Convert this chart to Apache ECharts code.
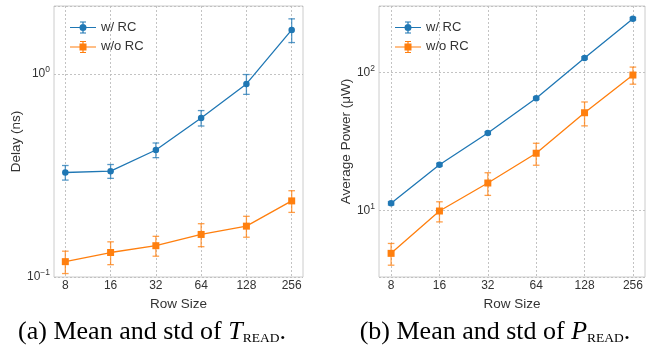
<!DOCTYPE html>
<html>
<head>
<meta charset="utf-8">
<script src="https://cdn.jsdelivr.net/npm/echarts@6/dist/echarts.min.js"></script>
<style>
html,body{margin:0;padding:0;background:#fff;}
#chart{width:652px;height:350px;}
</style>
</head>
<body>
<div id="chart"></div>
<script>
// ---- data ----
var rowSizes = [8, 16, 32, 64, 128, 256];
var seriesNames = ['w/ RC', 'w/o RC'];
var delayWithRC = [0.327, 0.332, 0.422, 0.607, 0.893, 1.647];
var delayWithRCStd = [0.027, 0.026, 0.035, 0.053, 0.100, 0.220];
var delayWithoutRC = [0.119, 0.132, 0.1426, 0.162, 0.178, 0.237];
var delayWithoutRCStd = [0.015, 0.017, 0.016, 0.021, 0.021, 0.029];
var powerWithRC = [11.3, 21.5, 36.4, 64.9, 126.9, 243.8];
var powerWithRCStd = [0.3, 0.5, 0.8, 1.3, 2.5, 5.0];
var powerWithoutRC = [4.92, 9.95, 15.85, 26.0, 51.0, 95.5];
var powerWithoutRCStd = [0.88, 1.65, 2.95, 4.7, 10.0, 13.5];
var yLabels = ['Delay (ns)', 'Average Power (\u03bcW)'];
var xLabel = 'Row Size';
var captionA = ['(a) Mean and std of ', 'T', 'READ', '.'];
var captionB = ['(b) Mean and std of ', 'P', 'READ', '.'];

// ---- build ----
var BLUE = '#1f77b4', ORANGE = '#ff7f0e';
var FONT = 'Liberation Sans, Arial, sans-serif';
var SERIF = 'Liberation Serif, Times New Roman, serif';
var TXT = '#333333';
var xs = rowSizes.map(function (r) { return Math.log2(r); });

function pts(means) { return means.map(function (m, i) { return [xs[i], m]; }); }
function errs(means, stds) { return means.map(function (m, i) { return [xs[i], m - stds[i], m + stds[i]]; }); }

var iconCircle = 'path://M0,6.5H26V7.5H0Z M12.4,1H13.6V13H12.4Z M10,1H16V2H10Z M10,12H16V13H10Z M9.5,7A3.5,3.5,0,1,1,16.5,7A3.5,3.5,0,1,1,9.5,7Z';
var iconSquare = 'path://M0,6.5H26V7.5H0Z M12.4,1H13.6V13H12.4Z M10,1H16V2H10Z M10,12H16V13H10Z M9.5,3.5H16.5V10.5H9.5Z';

var gridLine = { show: true, lineStyle: { color: '#bdbdbd', width: 0.9, type: [2, 2] } };

function xAxis(gi) {
  return {
    type: 'value', gridIndex: gi, min: 2.75, max: 8.25,
    name: xLabel, nameLocation: 'middle', nameGap: 12,
    nameTextStyle: { fontFamily: FONT, fontSize: 13.5, color: TXT },
    axisLine: { show: false },
    axisTick: { show: false, customValues: xs },
    axisLabel: {
      customValues: xs, margin: 3, fontFamily: FONT, fontSize: 12, color: TXT,
      formatter: function (v) { return String(Math.round(Math.pow(2, v))); }
    },
    splitLine: gridLine
  };
}
function supFmt(v) {
  var e = Math.round(Math.log10(v));
  return '10{sup|' + (e < 0 ? '\u2212' + (-e) : e) + '}';
}
function yAxis(gi, min, max, name, gap) {
  return {
    type: 'log', logBase: 10, gridIndex: gi, min: min, max: max,
    name: name, nameLocation: 'middle', nameRotate: 90, nameGap: gap,
    nameTextStyle: { fontFamily: FONT, fontSize: 13.5, color: TXT },
    axisLine: { show: false },
    axisTick: { show: false },
    minorTick: { show: false },
    axisLabel: {
      showMinLabel: gi === 0, showMaxLabel: false, margin: 4,
      fontFamily: FONT, fontSize: 12, color: TXT,
      formatter: supFmt,
      rich: { sup: { fontFamily: FONT, fontSize: 8.5, color: TXT, padding: [0, 0, 8, 0] } }
    },
    splitLine: gridLine
  };
}
function lineSeries(name, gi, means, color, symbol, size) {
  return {
    type: 'line', name: name, xAxisIndex: gi, yAxisIndex: gi,
    data: pts(means), symbol: symbol, symbolSize: size,
    itemStyle: { color: color, borderWidth: 0 },
    lineStyle: { color: color, width: 1.3 },
    z: 3, animation: false
  };
}
function errSeries(name, gi, means, stds, color) {
  return {
    type: 'custom', name: name, xAxisIndex: gi, yAxisIndex: gi,
    data: errs(means, stds), encode: { x: 0, y: [1, 2] }, z: 2, animation: false,
    renderItem: function (params, api) {
      var x = api.value(0);
      var p1 = api.coord([x, api.value(2)]);
      var p2 = api.coord([x, api.value(1)]);
      var w = 3.3;
      var st = { stroke: color, lineWidth: 1.3, opacity: 0.75 };
      return { type: 'group', children: [
        { type: 'line', shape: { x1: p1[0], y1: p1[1], x2: p2[0], y2: p2[1] }, style: st },
        { type: 'line', shape: { x1: p1[0] - w, y1: p1[1], x2: p1[0] + w, y2: p1[1] }, style: st },
        { type: 'line', shape: { x1: p2[0] - w, y1: p2[1], x2: p2[0] + w, y2: p2[1] }, style: st }
      ] };
    }
  };
}
function legend(left) {
  return {
    orient: 'vertical', left: left, top: 16, itemWidth: 26, itemHeight: 12, itemGap: 6.4,
    data: [{ name: seriesNames[0], icon: iconCircle }, { name: seriesNames[1], icon: iconSquare }],
    itemStyle: { borderWidth: 0 },
    textStyle: { fontFamily: FONT, fontSize: 13, color: TXT },
    selectedMode: false
  };
}
function caption(parts, cx) {
  return {
    type: 'text', x: cx, y: 332,
    style: {
      text: parts[0] + '{it|' + parts[1] + '}{sub|' + parts[2] + '}' + parts[3],
      fontFamily: SERIF, fontSize: 26, fill: '#000',
      align: 'center', verticalAlign: 'middle',
      rich: {
        it: { fontFamily: SERIF, fontSize: 26, fontStyle: 'italic', fill: '#000' },
        sub: { fontFamily: SERIF, fontSize: 13.5, fill: '#000', padding: [12, 0, 0, 0] }
      }
    }
  };
}

var gridStyle = { show: true, borderColor: '#cccccc', borderWidth: 1, backgroundColor: '#fff' };
var option = {
  animation: false,
  backgroundColor: '#ffffff',
  grid: [
    Object.assign({ left: 54, top: 6, width: 249, height: 271 }, gridStyle),
    Object.assign({ left: 379, top: 6, width: 266, height: 271 }, gridStyle)
  ],
  xAxis: [xAxis(0), xAxis(1)],
  yAxis: [yAxis(0, 0.1, 2.16, yLabels[0], 23), yAxis(1, 3.32, 301, yLabels[1], 20)],
  legend: [legend(65), legend(390)],
  series: [
    errSeries('e1', 0, delayWithRC, delayWithRCStd, BLUE),
    errSeries('e2', 0, delayWithoutRC, delayWithoutRCStd, ORANGE),
    lineSeries(seriesNames[0], 0, delayWithRC, BLUE, 'circle', 6.5),
    lineSeries(seriesNames[1], 0, delayWithoutRC, ORANGE, 'rect', 7),
    errSeries('e3', 1, powerWithRC, powerWithRCStd, BLUE),
    errSeries('e4', 1, powerWithoutRC, powerWithoutRCStd, ORANGE),
    lineSeries(seriesNames[0], 1, powerWithRC, BLUE, 'circle', 6.5),
    lineSeries(seriesNames[1], 1, powerWithoutRC, ORANGE, 'rect', 7)
  ],
  graphic: [caption(captionA, 152), caption(captionB, 495)]
};
var chart = echarts.init(document.getElementById('chart'), null, { renderer: 'canvas' });
chart.setOption(option);
</script>
</body>
</html>
